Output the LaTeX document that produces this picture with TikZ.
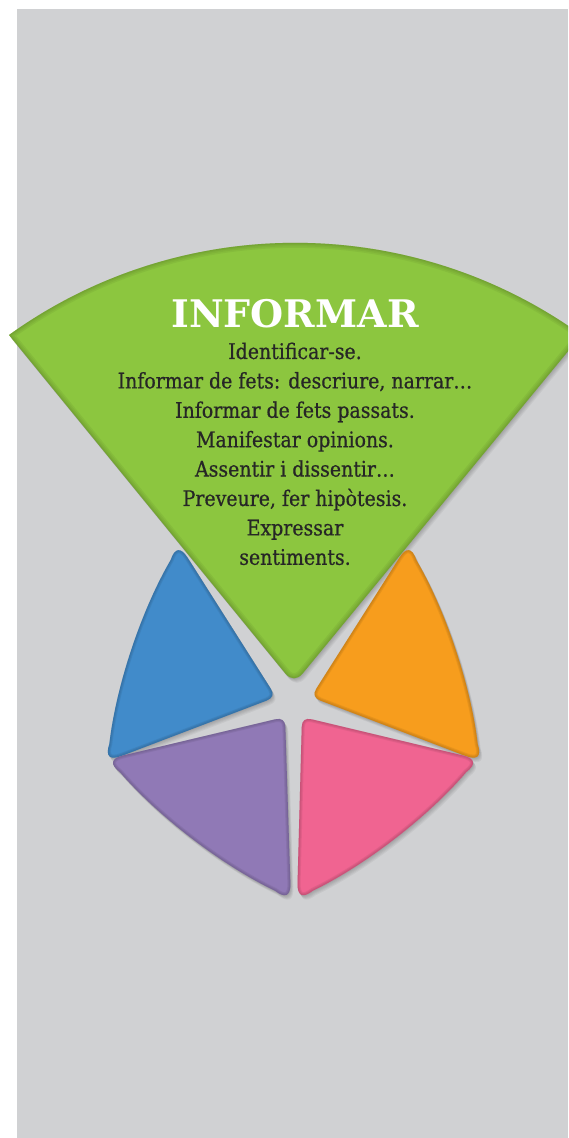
\documentclass[tikz,border=0pt]{standalone}
\usepackage{fontspec}
\setmainfont[FakeStretch=0.88, FakeBold=0.6]{DejaVu Serif}
\newfontfamily\titlefont{DejaVu Serif}
\usepackage{tikz}
\usetikzlibrary{calc}

\definecolor{bggray}{HTML}{D0D1D3}
\definecolor{pgreen}{HTML}{8CC63F}
\definecolor{pblue}{HTML}{418BCA}
\definecolor{porange}{HTML}{F79D1D}
\definecolor{ppurple}{HTML}{9079B6}
\definecolor{ppink}{HTML}{F06491}
\definecolor{textdark}{HTML}{262626}

% rounded triangle: inner corner, outer corner, outer corner (outer edge bulges)
\newcommand{\rtri}[3]{($(#1)!10pt!(#2)$) -- ($(#2)!20pt!(#1)$)
  .. controls ($(#2)!7pt!(#1)$) and ($(#2)!7pt!(#3)$) .. ($(#2)!20pt!(#3)$)
  .. controls ($(#2)!.33!(#3)!12pt!90:(#3)$) and ($(#3)!.33!(#2)!12pt!-90:(#2)$) .. ($(#3)!20pt!(#2)$)
  .. controls ($(#3)!7pt!(#2)$) and ($(#3)!7pt!(#1)$) .. ($(#3)!20pt!(#1)$) -- ($(#1)!10pt!(#3)$)
  .. controls ($(#1)!3.5pt!(#3)$) and ($(#1)!3.5pt!(#2)$) .. cycle}
\newcommand{\greenpath}{($(gapex)!14pt!(gleft)$) -- (gleft) arc[start angle=125.7, end angle=54.3, radius=490.5]
  -- ($(gapex)!14pt!(gright)$) .. controls ($(gapex)!5pt!(gright)$) and ($(gapex)!5pt!(gleft)$) .. cycle}

\begin{document}
\begin{tikzpicture}[x=1pt, y=1pt,
    line/.style={anchor=base, text=textdark, font=\fontsize{21.5}{24}\selectfont}]

 \clip (0,0) rectangle (568,1138);
 \fill[white] (0,0) rectangle (568,1138);
 \fill[bggray] (17,0) rectangle (568,1129);

 % corners
 \coordinate (gapex) at (294,454);
 \coordinate (gleft) at (9,803);
 \coordinate (gright) at (581,803);

 \coordinate (bin) at (276,441);  \coordinate (bout) at (103,375); \coordinate (btop) at (177,597);
 \coordinate (oin) at (311,441);  \coordinate (otop) at (410,597); \coordinate (oout) at (484,375);
 \coordinate (pin) at (285,421);  \coordinate (pbot) at (291,235); \coordinate (pout) at (104,378);
 \coordinate (kin) at (302,421);  \coordinate (kout) at (482,378); \coordinate (kbot) at (297,235);

 % soft shadows
 \foreach \s in {1,...,5} {
   \fill[black, opacity=.045, transform canvas={shift={(\s*0.6,-\s*0.9)}}] \greenpath;
   \foreach \a/\b/\c in {bin/bout/btop, oin/otop/oout, pin/pbot/pout, kin/kout/kbot}
     \fill[black, opacity=.045, transform canvas={shift={(\s*0.6,-\s*0.9)}}] \rtri{\a}{\b}{\c};
 }

 % green sector
 \fill[pgreen] \greenpath;
 \begin{scope}
  \clip \greenpath;
  \foreach \w in {10,7,4,2}
    \draw[pgreen!60!black, line width=\w pt, opacity=.12] \greenpath;
 \end{scope}

 % the other four pieces
 \foreach \a/\b/\c/\col in {bin/bout/btop/pblue, oin/otop/oout/porange, pin/pbot/pout/ppurple, kin/kout/kbot/ppink} {
   \fill[\col] \rtri{\a}{\b}{\c};
   \begin{scope}
    \clip \rtri{\a}{\b}{\c};
    \foreach \w in {6,4,2}
      \draw[\col!60!black, line width=\w pt, opacity=.15] \rtri{\a}{\b}{\c};
   \end{scope}
 }

 % texts
 \node[text=white, font=\titlefont\bfseries\fontsize{38}{40}\selectfont] (title) at (295,824) {INFORMAR};
 \foreach \i/\txt in {0/Identificar-se., 1/{Informar de fets: descriure, narrar\ldots}, 2/Informar de fets passats.,
     3/Manifestar opinions., 4/{Assentir i dissentir\ldots}, 5/{Preveure, fer hipòtesis.}, 6/Expressar, 7/sentiments.}
   \node[line] (l\i) at (295,779-\i*29.4) {\txt};

\end{tikzpicture}
\end{document}
